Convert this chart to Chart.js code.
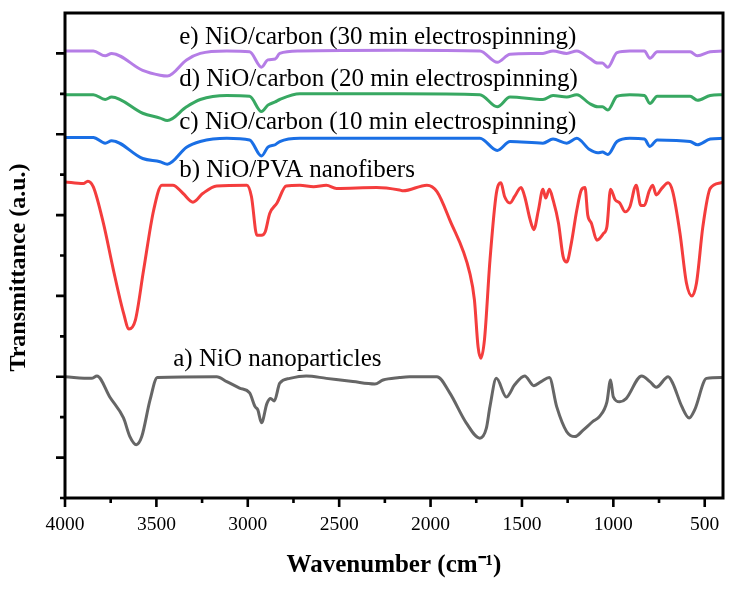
<!DOCTYPE html>
<html>
<head>
<meta charset="utf-8">
<title>FTIR spectra</title>
<script src="https://cdn.jsdelivr.net/npm/chart.js@4.4.0/dist/chart.umd.min.js"></script>
<style>
    html, body { margin: 0; padding: 0; background: #ffffff; }
    canvas { display: block; }
</style>
</head>
<body>
<canvas id="ftirChart" width="738" height="590"></canvas>
<script>
    "use strict";

    // Wavenumber grid shared by the three NiO/carbon spectra (cm-1).
    const waveCarbon = [4000, 3845, 3780, 3745, 3575, 3480, 3440, 3335, 3260, 3115, 2990, 2925, 2890, 2850, 2825, 2715, 2170, 1730, 1635, 1565, 1385, 1330, 1255, 1200, 1130, 1085, 1060, 1030, 980, 910, 830, 800, 760, 580, 540, 470, 400];
    const carbon30 = [5.03, 5.03, 4.97, 5.00, 4.79, 4.73, 4.72, 4.92, 5.00, 5.03, 5.02, 4.83, 4.92, 4.93, 5.00, 5.03, 5.04, 5.03, 4.89, 4.99, 5.00, 5.03, 5.00, 5.03, 4.94, 4.88, 4.88, 4.83, 5.01, 5.03, 5.03, 4.94, 5.02, 5.02, 4.97, 5.02, 5.03];
    const carbon20 = [4.49, 4.49, 4.43, 4.46, 4.26, 4.20, 4.17, 4.34, 4.43, 4.48, 4.47, 4.28, 4.36, 4.40, 4.43, 4.50, 4.50, 4.49, 4.34, 4.46, 4.43, 4.48, 4.46, 4.49, 4.38, 4.34, 4.34, 4.30, 4.47, 4.49, 4.48, 4.38, 4.47, 4.47, 4.42, 4.48, 4.49];
    const carbon10 = [3.96, 3.96, 3.89, 3.92, 3.70, 3.66, 3.63, 3.84, 3.91, 3.95, 3.93, 3.73, 3.84, 3.87, 3.91, 3.95, 3.95, 3.95, 3.80, 3.91, 3.89, 3.94, 3.89, 3.95, 3.81, 3.77, 3.78, 3.75, 3.91, 3.95, 3.94, 3.85, 3.93, 3.91, 3.87, 3.94, 3.95];

    // NiO/PVA nanofibers
    const wavePva = [4000, 3900, 3875, 3845, 3790, 3735, 3680, 3650, 3615, 3570, 3515, 3470, 3410, 3355, 3300, 3245, 3170, 3005, 2980, 2950, 2925, 2905, 2880, 2840, 2790, 2715, 2640, 2570, 2515, 2295, 2170, 2150, 2020, 1965, 1895, 1785, 1760, 1740, 1725, 1705, 1675, 1640, 1615, 1595, 1565, 1540, 1505, 1485, 1455, 1435, 1410, 1385, 1370, 1350, 1330, 1300, 1275, 1255, 1230, 1200, 1175, 1155, 1140, 1120, 1090, 1055, 1035, 1015, 990, 965, 935, 910, 875, 850, 830, 805, 785, 765, 735, 700, 675, 635, 600, 570, 545, 510, 470, 410, 400];
    const pvaFibers = [3.41, 3.39, 3.42, 3.35, 2.90, 2.32, 1.79, 1.59, 1.70, 2.32, 3.06, 3.37, 3.37, 3.27, 3.16, 3.27, 3.36, 3.37, 3.23, 2.75, 2.75, 2.79, 3.02, 3.15, 3.36, 3.37, 3.35, 3.37, 3.33, 3.34, 3.31, 3.30, 3.37, 3.29, 2.94, 2.28, 1.95, 1.37, 1.23, 1.46, 2.44, 3.27, 3.40, 3.23, 3.15, 3.23, 3.34, 3.23, 2.94, 2.82, 3.06, 3.32, 3.21, 3.32, 3.19, 2.90, 2.49, 2.42, 2.65, 3.06, 3.31, 3.34, 3.00, 2.90, 2.69, 2.77, 2.86, 3.32, 3.19, 3.15, 3.04, 3.10, 3.37, 3.12, 3.12, 3.29, 3.37, 3.25, 3.33, 3.40, 3.29, 2.77, 2.16, 2.00, 2.16, 2.86, 3.33, 3.40, 3.41];

    // NiO nanoparticles
    const waveNio = [4000, 3855, 3825, 3755, 3680, 3645, 3610, 3580, 3535, 3495, 3170, 3115, 3045, 2990, 2960, 2945, 2925, 2895, 2875, 2855, 2825, 2770, 2680, 2570, 2425, 2305, 2260, 2170, 2115, 1965, 1895, 1805, 1730, 1695, 1675, 1640, 1585, 1540, 1485, 1435, 1395, 1350, 1310, 1255, 1210, 1165, 1110, 1075, 1035, 1015, 1000, 965, 930, 845, 800, 765, 700, 675, 625, 585, 555, 490, 410, 400];
    const nioParticles = [1.00, 0.98, 1.01, 0.75, 0.49, 0.26, 0.16, 0.26, 0.71, 0.99, 1.00, 0.94, 0.86, 0.80, 0.63, 0.59, 0.43, 0.67, 0.73, 0.70, 0.92, 0.98, 1.01, 0.98, 0.94, 0.91, 0.96, 0.99, 1.00, 1.00, 0.80, 0.43, 0.24, 0.36, 0.63, 0.98, 0.75, 0.90, 1.01, 0.89, 0.94, 0.99, 0.63, 0.32, 0.26, 0.34, 0.45, 0.51, 0.69, 0.96, 0.75, 0.69, 0.73, 1.01, 0.94, 0.87, 1.00, 0.92, 0.63, 0.49, 0.59, 0.98, 0.99, 0.99];

    const xTickValues = [4000, 3500, 3000, 2500, 2000, 1500, 1000, 500];
    const yTickValues = [0, 1, 2, 3, 4, 5];
    const labelNames = [
        "e) NiO/carbon (30 min electrospinning)",
        "d) NiO/carbon (20 min electrospinning)",
        "c) NiO/carbon (10 min electrospinning)",
        "b) NiO/PVA nanofibers",
        "a) NiO nanoparticles"
    ];

    const serif = "'Liberation Serif', 'Times New Roman', serif";
    const toPoints = (xs, ys) => xs.map((x, i) => ({ x: x, y: ys[i] }));

    // Frame plus outward major/minor ticks, Origin style.
    const axisFrame = {
        id: "axisFrame",
        afterDraw: (chart, args, opts) => {
            const { ctx, chartArea: a, scales: { x, y } } = chart;
            ctx.save();
            ctx.strokeStyle = "#000";
            ctx.lineWidth = 2.6;
            ctx.beginPath();
            xTickValues.forEach((v) => {
                const px = x.getPixelForValue(v);
                ctx.moveTo(px, a.bottom);
                ctx.lineTo(px, a.bottom + opts.major);
                const mid = v - 250;
                if (mid > x.min) {
                    const pm = x.getPixelForValue(mid);
                    ctx.moveTo(pm, a.bottom);
                    ctx.lineTo(pm, a.bottom + opts.minor);
                }
            });
            yTickValues.forEach((v) => {
                const py = y.getPixelForValue(v);
                ctx.moveTo(a.left, py);
                ctx.lineTo(a.left - opts.major, py);
                const pm = y.getPixelForValue(v - 0.5);
                ctx.moveTo(a.left, pm);
                ctx.lineTo(a.left - opts.minor, pm);
            });
            ctx.stroke();
            ctx.lineWidth = 3;
            ctx.strokeRect(a.left, a.top, a.right - a.left, a.bottom - a.top);
            ctx.restore();
        }
    };

    const curveLabels = {
        id: "curveLabels",
        afterDatasetsDraw: (chart, args, opts) => {
            const { ctx, scales: { x, y } } = chart;
            ctx.save();
            ctx.font = opts.font;
            ctx.fillStyle = "#000";
            ctx.textAlign = "left";
            ctx.textBaseline = "alphabetic";
            opts.anchors.forEach((p, i) => {
                ctx.fillText(labelNames[i], x.getPixelForValue(p[0]), y.getPixelForValue(p[1]));
            });
            ctx.restore();
        }
    };

    const line = (data, color) => ({
        data: data,
        borderColor: color,
        borderWidth: 3,
        pointRadius: 0,
        fill: false,
        cubicInterpolationMode: "monotone"
    });

    const chartOptions = {
        type: "line",
        data: {
            datasets: [
                line(toPoints(waveNio, nioParticles), "#666666"),
                line(toPoints(wavePva, pvaFibers), "#f43d3d"),
                line(toPoints(waveCarbon, carbon10), "#1a6fe5"),
                line(toPoints(waveCarbon, carbon20), "#38a862"),
                line(toPoints(waveCarbon, carbon30), "#b57de6")
            ]
        },
        options: {
            responsive: false,
            animation: false,
            layout: { padding: { top: 13, right: 15, left: 0, bottom: 0 } },
            plugins: {
                legend: { display: false },
                tooltip: { enabled: false },
                axisFrame: { major: 9, minor: 5 },
                curveLabels: {
                    font: "25px " + serif,
                    anchors: [[3375, 5.12], [3375, 4.6], [3375, 4.07], [3375, 3.47], [3408, 1.13]]
                }
            },
            scales: {
                x: {
                    type: "linear",
                    reverse: true,
                    min: 400,
                    max: 4000,
                    afterBuildTicks: (scale) => {
                        scale.ticks = xTickValues.map((v) => ({ value: v }));
                    },
                    afterFit: (scale) => { scale.height = 92; },
                    grid: { display: false, drawTicks: false },
                    border: { display: false },
                    ticks: {
                        color: "#000",
                        padding: 15,
                        maxRotation: 0,
                        font: { family: serif, size: 19.5 },
                        callback: (v) => String(v)
                    },
                    title: {
                        display: true,
                        text: "Wavenumber (cm\u207B\u00B9)",
                        color: "#000",
                        padding: { top: 0, bottom: 9 },
                        font: { family: serif, size: 25, weight: "bold" }
                    }
                },
                y: {
                    min: -0.5,
                    max: 5.5,
                    afterFit: (scale) => { scale.width = 65; },
                    grid: { display: false, drawTicks: false },
                    border: { display: false },
                    ticks: { display: false },
                    title: {
                        display: true,
                        // trailing spaces nudge the centred title down the axis like the original
                        text: "Transmittance (a.u.)    ",
                        color: "#000",
                        padding: { top: 4, bottom: 0 },
                        font: { family: serif, size: 24, weight: "bold" }
                    }
                }
            }
        },
        plugins: [axisFrame, curveLabels]
    };

    new Chart(document.getElementById("ftirChart").getContext("2d"), chartOptions);
</script>
</body>
</html>
